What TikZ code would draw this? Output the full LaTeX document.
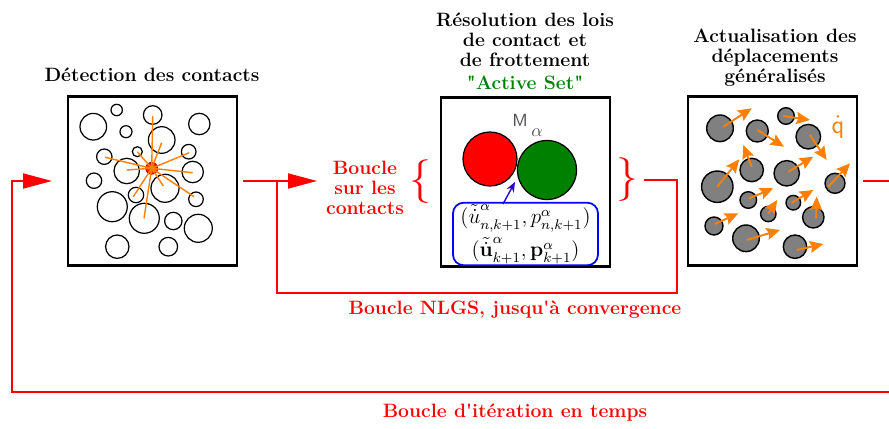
\documentclass[tikz,border=0pt]{standalone}
\usetikzlibrary{arrows.meta}
\begin{document}
\begin{tikzpicture}[x=0.02cm, y=-0.02cm,
  box/.style={draw, line width=1.2pt, minimum width=3.38cm, minimum height=3.38cm},
  title/.style={font=\fontsize{11}{11.4}\selectfont\bfseries, align=center},
  redline/.style={red, line width=1.1pt},
  bigtip/.style={-{Triangle[length=0.58cm, width=0.3cm]}},
  qarrow/.style={orange, line width=1.1pt, -{Stealth[length=0.27cm, width=0.24cm, inset=0.04cm]}}]
  \useasboundingbox (0,0) rectangle (889,429);
  \node[box] (detect) at (152.5,181) {};
  \node[box] (resol) at (525.5,182) {};
  \node[box] (actual) at (772.5,181) {};
  \node[title] (tdetect) at (152,75) {Détection des contacts};
  \node[title] (tresol) at (525,40) {Résolution des lois\\de contact et\\de frottement};
  \node[title, text=green!50!black] (tset) at (525,83) {\textquotedbl Active Set\textquotedbl};
  \node[title] (tactual) at (775,58) {Actualisation des\\déplacements\\généralisés};
  \foreach \a/\b/\r in {
    93.3/126.7/13.3, 116.7/110/5.7, 152.7/115/9.3, 199.3/124/10.7,
    126/131.7/6, 161.7/140/13.3, 104.3/156.7/7.7, 137.3/151.7/5,
    188.7/151.7/7.3, 126.7/171/12.7, 192.7/172/10.7, 94/180.7/7.7,
    165/188.3/14, 136/195/7.7, 196/199.3/7.3, 112.3/206.7/15,
    144.3/218.3/15, 173.3/221/8.7, 198.3/228.3/14, 117.3/246.7/11.7,
    168.3/246.7/9.3} {
    \draw[line width=0.7pt] (\a,\b) circle (\r);
  }
  \shade[inner color=orange, outer color=red, draw=red!60!black] (151.7,168.3) circle (6);
  \foreach \a/\b in {
    152.7/116, 161.7/142.7, 189.3/152.7, 192.7/172.7, 194/196.7, 163.3/186,
    144/218.3, 133.3/196.7, 105/157.3, 126.7/170, 137.3/151.7} {
    \draw[orange, line width=0.8pt] (151.7,168.3) -- (\a,\b);
  }
  \draw[fill=red, line width=0.7pt] (490,159) circle (27);
  \draw[fill=green!50!black, line width=0.7pt] (547,170) circle (29.5);
  \node[text=gray!60!black] (m) at (520,120) {\textsf{M}};
  \node[text=gray!60!black] (alpha) at (537,133) {$\alpha$};
  \coordinate (mc) at (515,182);
  \node[draw=blue, rounded corners=6pt, line width=1pt, minimum width=2.9cm,
    minimum height=1.18cm, align=center, inner sep=1pt, font=\large] (vit) at (525.5,234)
    {$(\tilde{\dot u}^\alpha_{n,k+1}, p^\alpha_{n,k+1})$\\[2pt]
     $(\tilde{\dot{\mathbf u}}^\alpha_{k+1}, \mathbf p^\alpha_{k+1})$};
  \coordinate (va) at (503,204);
  \draw[blue!70!violet, line width=0.8pt, -{Stealth[length=0.2cm, width=0.16cm]}] (va) -- (mc);
  \foreach \a/\b/\r in {
    720/128.3/13.3, 757.3/131/11, 786/116/8.3, 808.3/136.7/12.3,
    751.7/170/11.7, 717.3/186.7/15.7, 786.7/173.3/12.7, 835/183.3/10,
    748.3/200/8.3, 793.3/202.7/7.3, 768.3/214/7.7, 813.3/217.3/10.7,
    714/226/9, 746/238.3/13.3, 795/246.7/11.7} {
    \draw[fill=gray, line width=0.8pt] (\a,\b) circle (\r);
  }
  \foreach \a/\b/\c/\d in {
    723.3/126.7/751.7/108.3, 757.3/130/784/146.7, 783.3/116/810/120,
    810/135/826.7/160, 751.7/166.7/743.3/145, 717.3/186.7/739.3/159.3,
    788.3/171.7/813.3/156.7, 828.3/186.7/850/163.3, 749.3/198.3/773.3/188.3,
    791.7/202.7/813.3/190, 768.3/213.3/777.3/200, 816/218.3/816.7/196.7,
    715/224/738.3/213.3, 746.7/240/780/230, 796.7/250/823.3/244} {
    \draw[qarrow] (\a,\b) -- (\c,\d);
  }
  \node[text=orange, inner sep=1pt] (qdot) at (838,127) {\Large$\dot{\mathsf q}$};
  \node[title, text=red] (sur) at (365,188) {Boucle\\sur les\\contacts};
  \node[text=red] (lbrace) at (420,182) {\Huge$\{$};
  \node[text=red] (rbrace) at (627,180) {\Huge$\}$};
  \coordinate (tsur) at (317,181);
  \coordinate (nr) at (677,293);
  \coordinate (nl) at (277,181);
  \coordinate (tr) at (895,392);
  \coordinate (tl) at (12,181);
  \coordinate (tin) at (52,181);
  \draw[redline, bigtip, shorten <=3pt] (detect.east) -- (tsur);
  \draw[redline] (rbrace.east) -| (nr) -| (nl);
  \draw[redline, bigtip, shorten <=3pt] (actual.east) -| (tr) -| (tl) -- (tin);
  \node[title, text=red] (nlgs) at (515,310) {Boucle NLGS, jusqu\textquotesingle à convergence};
  \node[title, text=red] (temps) at (515,413) {Boucle d\textquotesingle itération en temps};
\end{tikzpicture}
\end{document}
